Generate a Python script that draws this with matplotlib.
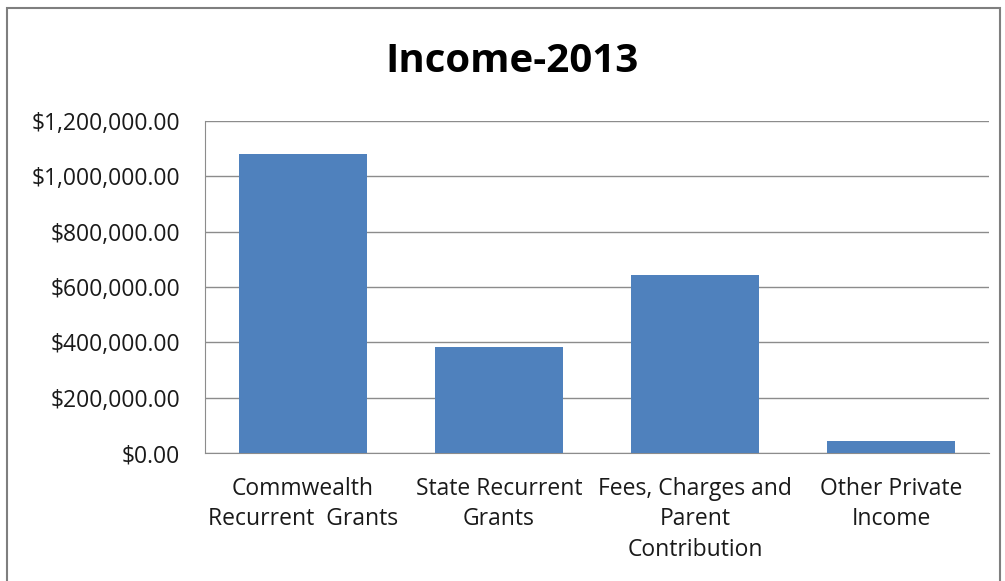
import matplotlib.pyplot as plt
import matplotlib.patches as mpatches
from matplotlib.ticker import FuncFormatter, MultipleLocator

plt.rcParams["font.family"] = ["Open Sans", "DejaVu Sans"]

categories = ["Commwealth\nRecurrent  Grants", "State Recurrent\nGrants",
              "Fees, Charges and\nParent\nContribution", "Other Private\nIncome"]
income = [1081000, 383000, 642000, 43000]

fig = plt.figure(figsize=(10.05, 5.81), dpi=100)
ax = fig.add_axes([205 / 1005, 1 - 453 / 581, (989 - 205) / 1005, (453 - 121) / 581])

x = range(len(categories))
ax.bar(x, income, width=0.65, color="#4F81BD", zorder=3)
ax.set_xlim(-0.5, len(categories) - 0.5)
ax.set_ylim(0, 1200000)
ax.yaxis.set_major_locator(MultipleLocator(200000))
ax.yaxis.set_major_formatter(FuncFormatter(lambda v, p: f"${v:,.2f}"))
ax.grid(True, axis="y", color="#8C8C8C", linewidth=1, zorder=0)
ax.set_xticks(list(x))
ax.set_xticklabels(categories, fontsize=16.5, linespacing=1.38, color="#1a1a1a")
ax.tick_params(axis="y", labelsize=16.5, length=0, pad=18, colors="#1a1a1a")
ax.tick_params(axis="x", length=0, pad=17)
for s in ["top", "right"]:
    ax.spines[s].set_visible(False)
ax.spines["left"].set_color("#8C8C8C")
ax.spines["bottom"].set_color("#8C8C8C")

fig.text(512 / 1005, 1 - 62 / 581, "Income-2013", ha="center", va="center",
         fontsize=29, fontweight="bold", color="black")

# chart area border
fig.patches.append(mpatches.Rectangle((7 / 1005, -0.05), (1000 - 7) / 1005, 1 - 8 / 581 + 0.05,
                                      transform=fig.transFigure, fill=False,
                                      edgecolor="#7F7F7F", linewidth=1.5))

fig.savefig("out.png", dpi=100)
